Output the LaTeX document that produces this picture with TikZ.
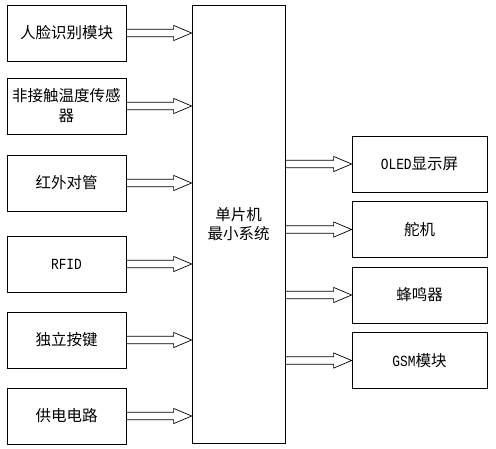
\documentclass[tikz,border=0pt]{standalone}
\usepackage{fontspec}
\setmainfont{Noto Sans CJK SC}
\newfontfamily\narrowlat{Liberation Mono}[FakeStretch=0.83]
\usetikzlibrary{calc}
\tikzset{
  box/.style={draw=black, line width=0.8pt, inner sep=0pt, align=center,
    font=\fontsize{15.5}{20}\selectfont},
  fat/.style={draw=black, line width=0.7pt},
}
% #1: anchor giving start x, #2: anchor giving tip x, #3: anchor giving y
\newcommand{\fatarrow}[3]{%
  \draw[fat] let \p1=(#1), \p2=(#2), \p3=(#3) in
    (\x1,\y3+3.8pt) -- (\x2-18pt,\y3+3.8pt) -- (\x2-18pt,\y3+7.6pt) -- (\x2,\y3)
    -- (\x2-18pt,\y3-7.6pt) -- (\x2-18pt,\y3-3.8pt) -- (\x1,\y3-3.8pt);}
\newcommand{\lat}[1]{{\narrowlat #1}}
\begin{document}
\begin{tikzpicture}[x=1pt,y=-1pt]
\useasboundingbox (0,0) rectangle (496,448);
% left boxes
\node[box, minimum width=119pt, minimum height=56pt] (l1) at (66.5,33) {人脸识别模块};
\node[box, minimum width=119pt, minimum height=56pt] (l2) at (66.5,106) {非接触温度传感\\器};
\node[box, minimum width=119pt, minimum height=56pt] (l3) at (66.5,183) {红外对管};
\node[box, minimum width=119pt, minimum height=56pt] (l4) at (66.5,264) {\lat{RFID}};
\node[box, minimum width=119pt, minimum height=56pt] (l5) at (66.5,340) {独立按键};
\node[box, minimum width=119pt, minimum height=56pt] (l6) at (66.5,416) {供电电路};
% centre
\node[box, minimum width=93pt, minimum height=438pt, font=\fontsize{15.5}{19}\selectfont] (mcu) at (238.5,224) {单片机\\最小系统};
% right boxes
\node[box, minimum width=135pt, minimum height=56pt] (r1) at (419.5,164) {\lat{OLED}显示屏};
\node[box, minimum width=135pt, minimum height=56pt] (r2) at (419.5,229.5) {舵机};
\node[box, minimum width=135pt, minimum height=56pt] (r3) at (419.5,295) {蜂鸣器};
\node[box, minimum width=135pt, minimum height=56pt] (r4) at (419.5,360.5) {\lat{GSM}模块};
% arrows in
\foreach \k in {l1,l2,l3,l4,l5,l6}
  {\fatarrow{\k.east}{mcu.west}{\k.east}}
% arrows out
\foreach \k in {r1,r2,r3,r4}
  {\fatarrow{mcu.east}{\k.west}{\k.west}}
\end{tikzpicture}
\end{document}
